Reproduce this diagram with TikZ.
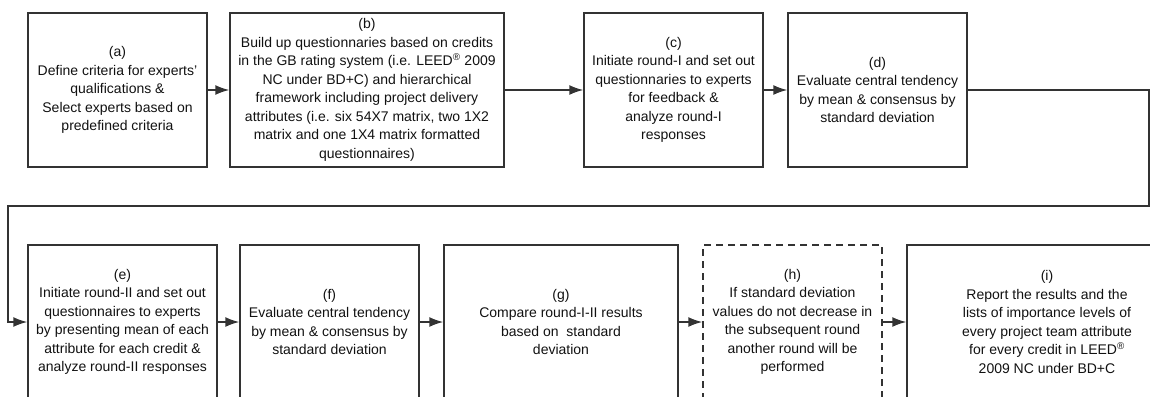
\documentclass[tikz,border=0pt]{standalone}
\usepackage{fontspec}
\setmainfont{Liberation Sans}
\usetikzlibrary{arrows.meta}
\definecolor{linegray}{HTML}{333333}
\definecolor{textgray}{HTML}{111111}
\newcommand{\leedreg}{LEED\textsuperscript{®}}
\begin{document}
\begin{tikzpicture}[x=1pt, y=-1pt,
	stepbox/.style={draw=linegray, line width=1.5pt, minimum height=154pt, inner sep=0pt,
		align=center, text=textgray, font=\fontsize{14}{18.5}\selectfont},
	dashbox/.style={stepbox, dash pattern=on 7pt off 5pt},
	flow/.style={draw=linegray, line width=1.5pt, -{Latex[length=14pt,width=10pt]}}]
	\useasboundingbox (0,0) rectangle (1150,396);
	\clip (0,0) rectangle (1150,396);
	
	% first round
	\node[stepbox, minimum width=179pt] (a) at (117.5, 90) {(a)\\Define criteria for experts'\\qualifications \&\\Select experts based on\\predefined criteria};
	\node[stepbox, minimum width=274pt] (b) at (367, 90) {(b)\\Build up questionnaries based on credits\\in the GB rating system (i.e. \leedreg{} 2009\\NC under BD+C) and hierarchical\\framework including project delivery\\attributes (i.e. six 54X7 matrix, two 1X2\\matrix and one 1X4 matrix formatted\\questionnaires)};
	\node[stepbox, minimum width=179pt] (c) at (673.5, 90) {(c)\\Initiate round-I and set out\\questionnaries to experts\\for feedback \&\\analyze round-I\\responses};
	\node[stepbox, minimum width=179pt] (d) at (877.5, 90) {(d)\\Evaluate central tendency\\by mean \& consensus by\\standard deviation};
	
	% second round
	\node[stepbox, minimum width=189pt] (e) at (122.5, 322) {(e)\\Initiate round-II and set out\\questionnaires to experts\\by presenting mean of each\\attribute for each credit \&\\analyze round-II responses};
	\node[stepbox, minimum width=179pt] (f) at (329.5, 322) {(f)\\Evaluate central tendency\\by mean \& consensus by\\standard deviation};
	\node[stepbox, minimum width=234pt] (g) at (561, 322) {(g)\\Compare round-I-II results\\based on\ \ standard\\deviation};
	\node[dashbox, minimum width=179pt] (h) at (792.5, 322) {(h)\\If standard deviation\\values do not decrease in\\the subsequent round\\another round will be\\performed};
	\node[stepbox, minimum width=280pt] (i) at (1047, 322) {(i)\\Report the results and the\\lists of importance levels of\\every project team attribute\\for every credit in \leedreg{}\\2009 NC under BD+C};
	
	\draw[flow] (a) -- (b);
	\draw[flow] (b) -- (c);
	\draw[flow] (c) -- (d);
	
	% loop back to the second row
	\coordinate (turnA) at (1149, 90);
	\coordinate (turnB) at (1149, 206);
	\coordinate (turnC) at (8, 206);
	\coordinate (turnD) at (8, 322);
	\draw[flow] (d.east) -- (turnA) -- (turnB) -- (turnC) -- (turnD) -- (e.west);
	
	\draw[flow] (e) -- (f);
	\draw[flow] (f) -- (g);
	\draw[flow] (g) -- (h);
	\draw[flow] (h) -- (i);
\end{tikzpicture}
\end{document}
